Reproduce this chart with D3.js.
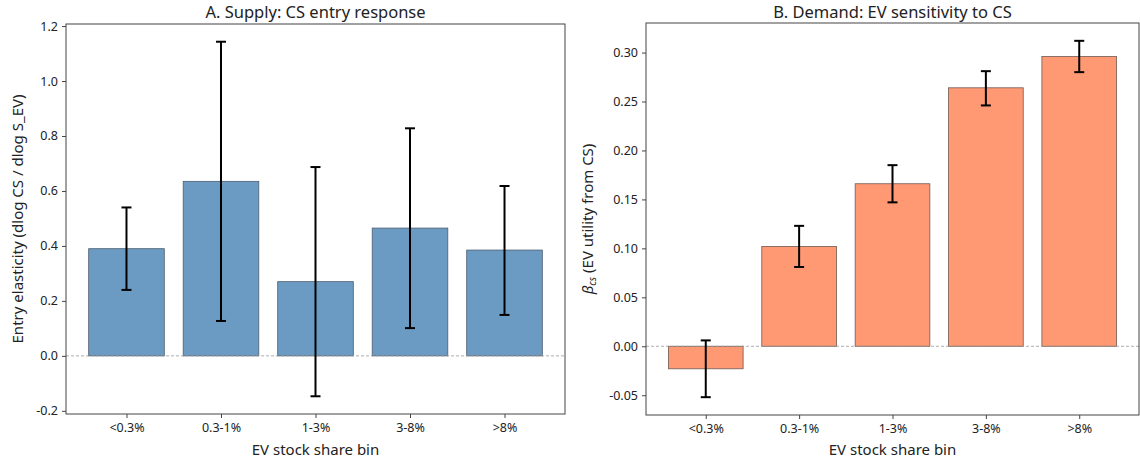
<!DOCTYPE html>
<html>
<head>
<meta charset="utf-8">
<script src="https://cdn.jsdelivr.net/npm/d3@7"></script>
<style>
  body { margin: 0; background: #fff; }
  svg text { font-family: "Noto Sans", "Open Sans", sans-serif; fill: #222; }
</style>
</head>
<body>
<svg id="chart" width="1140" height="464"></svg>
<script>
const bins = ["<0.3%", "0.3-1%", "1-3%", "3-8%", ">8%"];

// panel A: supply elasticity
const supplyVals = [0.39, 0.635, 0.27, 0.465, 0.385];
const supplyLo = [0.24, 0.127, -0.147, 0.101, 0.149];
const supplyHi = [0.54, 1.143, 0.687, 0.828, 0.618];
const supplyTicks = [-0.2, 0.0, 0.2, 0.4, 0.6, 0.8, 1.0, 1.2];

// panel B: demand beta
const demandVals = [-0.023, 0.102, 0.166, 0.264, 0.296];
const demandLo = [-0.052, 0.081, 0.147, 0.246, 0.28];
const demandHi = [0.006, 0.123, 0.185, 0.281, 0.312];
const demandTicks = [-0.05, 0.0, 0.05, 0.10, 0.15, 0.20, 0.25, 0.30];

const svg = d3.select("#chart");

function drawPanel(opts) {
    const g = svg.append("g");
    const x = d3.scaleLinear().domain([-0.64, 4.64]).range([opts.left, opts.right]);
    const lo = d3.min(opts.lo), hi = d3.max(opts.hi);
    const pad = (hi - lo) * 0.05;
    const y = d3.scaleLinear().domain([lo - pad, hi + pad]).range([opts.bottom, opts.top]);

    // bars
    g.selectAll("rect.bar").data(opts.vals).enter()
        .append("rect")
        .attr("class", "bar")
        .attr("x", (d, i) => x(i - 0.4))
        .attr("width", x(0.8) - x(0))
        .attr("y", d => y(Math.max(0, d)))
        .attr("height", d => Math.abs(y(d) - y(0)))
        .style("fill", opts.fill)
        .style("stroke", opts.edge)
        .style("stroke-width", 0.8);

    // zero line
    g.append("line")
        .attr("x1", opts.left).attr("x2", opts.right)
        .attr("y1", y(0)).attr("y2", y(0))
        .style("stroke", "#999")
        .style("stroke-width", 0.8)
        .style("stroke-dasharray", "3,2");

    // error bars
    const cap = 5;
    opts.vals.forEach((d, i) => {
        const cx = x(i);
        g.append("line")
            .attr("x1", cx).attr("x2", cx)
            .attr("y1", y(opts.lo[i])).attr("y2", y(opts.hi[i]))
            .style("stroke", "#000").style("stroke-width", 2);
        [opts.lo[i], opts.hi[i]].forEach(v => {
            g.append("line")
                .attr("x1", cx - cap).attr("x2", cx + cap)
                .attr("y1", y(v)).attr("y2", y(v))
                .style("stroke", "#000").style("stroke-width", 2);
        });
    });

    // frame
    g.append("rect")
        .attr("x", opts.left).attr("y", opts.top)
        .attr("width", opts.right - opts.left).attr("height", opts.bottom - opts.top)
        .style("fill", "none").style("stroke", "#444").style("stroke-width", 1);

    // axes
    const xAxis = g.append("g")
        .attr("transform", `translate(0,${opts.bottom})`)
        .call(d3.axisBottom(x).tickValues([0, 1, 2, 3, 4]).tickFormat(i => bins[i]).tickSize(4).tickPadding(5));
    const yAxis = g.append("g")
        .attr("transform", `translate(${opts.left},0)`)
        .call(d3.axisLeft(y).tickValues(opts.ticks).tickFormat(d => opts.fmt(d).replace("\u2212", "-")).tickSize(4).tickPadding(4));

    [xAxis, yAxis].forEach(a => {
        a.select(".domain").remove();
        a.selectAll("line").style("stroke", "#444");
        a.selectAll("text").style("font-size", "12.5px").style("fill", "#222");
    });

    // title
    g.append("text")
        .attr("x", (opts.left + opts.right) / 2).attr("y", 18)
        .style("text-anchor", "middle")
        .style("font-size", "16.5px")
        .text(opts.title);

    // x label
    g.append("text")
        .attr("x", (opts.left + opts.right) / 2).attr("y", 455)
        .style("text-anchor", "middle")
        .style("font-size", "15px")
        .text("EV stock share bin");

    // y label
    const yl = g.append("text")
        .attr("transform", `translate(${opts.ylabelX},${(opts.top + opts.bottom) / 2}) rotate(-90)`)
        .style("text-anchor", "middle")
        .style("font-size", "15px");
    opts.ylabel(yl);
}

drawPanel({
    left: 66, right: 565, top: 24, bottom: 414,
    vals: supplyVals, lo: supplyLo, hi: supplyHi, ticks: supplyTicks,
    fmt: d3.format(".1f"),
    fill: "#6b9bc3", edge: "#4d5d6e",
    title: "A. Supply: CS entry response",
    ylabelX: 23,
    ylabel: t => t.text("Entry elasticity (dlog CS / dlog S_EV)")
});

drawPanel({
    left: 646, right: 1139, top: 23, bottom: 415,
    vals: demandVals, lo: demandLo, hi: demandHi, ticks: demandTicks,
    fmt: d3.format(".2f"),
    fill: "#ff9973", edge: "#6e5a52",
    title: "B. Demand: EV sensitivity to CS",
    ylabelX: 593,
    ylabel: t => {
        t.append("tspan").style("font-style", "italic").text("β");
        t.append("tspan").style("font-style", "italic").style("font-size", "10px").attr("dy", 3).text("cs");
        t.append("tspan").attr("dy", -3).text(" (EV utility from CS)");
    }
});
</script>
</body>
</html>
